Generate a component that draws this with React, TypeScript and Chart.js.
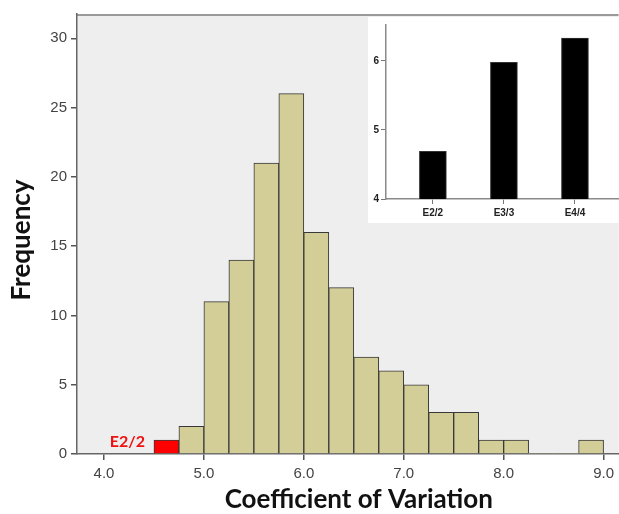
import React, { useEffect, useRef } from "react";
import { Chart, registerables } from "chart.js";

Chart.register(...registerables);

// ---- Data ----
const binStarts = [4.5, 4.75, 5.0, 5.25, 5.5, 5.75, 6.0, 6.25, 6.5, 6.75, 7.0, 7.25, 7.5, 7.75, 8.0, 8.25, 8.5, 8.75];
const binCounts = [1, 2, 11, 14, 21, 26, 16, 12, 7, 6, 5, 3, 3, 1, 1, 0, 0, 1];
const highlightBinIndex = 0;
const highlightLabel = "E2/2";
const BIN_WIDTH = 0.25;
const xTickValues = [4, 5, 6, 7, 8, 9];
const yTickValues = [0, 5, 10, 15, 20, 25, 30];
const xTitle = "Coefficient of Variation";
const yTitle = "Frequency";

const insetCategories = ["E2/2", "E3/3", "E4/4"];
const insetValues = [4.69, 5.98, 6.33];
const insetTickValues = [4, 5, 6];

const BAR_FILL = "#d3ce97";
const HIGHLIGHT_FILL = "#ff0000";

export default function App() {
  const mainRef = useRef<HTMLCanvasElement | null>(null);
  const insetRef = useRef<HTMLCanvasElement | null>(null);

  useEffect(() => {
    document.body.style.margin = "0";
    const mainCanvas = mainRef.current!;
    const insetCanvas = insetRef.current!;

    const mainChart = new Chart(mainCanvas, {
      type: "bar",
      data: {
        datasets: [
          {
            data: binStarts.map((s, i) => ({ x: s + BIN_WIDTH / 2, y: binCounts[i] })),
            backgroundColor: binCounts.map((_, i) => (i === highlightBinIndex ? HIGHLIGHT_FILL : BAR_FILL)),
            borderColor: "#383838",
            borderWidth: (ctx: any) => (ctx.raw && ctx.raw.y > 0 ? 1 : 0),
            categoryPercentage: 1,
            barPercentage: 1,
            borderSkipped: "start",
          } as any,
        ],
      },
      options: {
        animation: false,
        responsive: false,
        maintainAspectRatio: false,
        layout: { padding: { top: 14, left: 0, right: 0, bottom: 0 } },
        plugins: { legend: { display: false }, tooltip: { enabled: false } },
        scales: {
          x: {
            type: "linear",
            min: 3.73,
            max: 9.15,
            offset: false,
            afterBuildTicks: (s: any) => {
              s.ticks = xTickValues.map((v) => ({ value: v }));
            },
            afterFit: (s: any) => {
              s.height = 60;
            },
            grid: { drawOnChartArea: false, offset: false, tickLength: 6, color: "#555", lineWidth: 1.5 },
            border: { color: "#666", width: 1.5 },
            ticks: {
              callback: (v: any) => Number(v).toFixed(1),
              font: { family: "Arial", size: 15 },
              color: "#444",
              padding: 5,
              autoSkip: false,
              maxRotation: 0,
            },
          },
          y: {
            type: "linear",
            min: 0,
            max: 31.75,
            afterBuildTicks: (s: any) => {
              s.ticks = yTickValues.map((v) => ({ value: v }));
            },
            afterFit: (s: any) => {
              s.width = 77;
            },
            grid: { drawOnChartArea: false, tickLength: 6, color: "#555", lineWidth: 1.5 },
            border: { color: "#666", width: 1.5 },
            ticks: {
              font: { family: "Arial", size: 15 },
              color: "#444",
              padding: 4,
            },
          },
        },
      } as any,
      plugins: [
        {
          id: "bgAndTitles",
          beforeDraw(chart: any) {
            const { ctx, chartArea } = chart;
            ctx.save();
            ctx.fillStyle = "#ffffff";
            ctx.fillRect(0, 0, chart.width, chart.height);
            ctx.fillStyle = "#eeeeee";
            ctx.fillRect(chartArea.left, chartArea.top, chartArea.right - chartArea.left, chartArea.bottom - chartArea.top);
            ctx.strokeStyle = "#9a9a9a";
            ctx.lineWidth = 2;
            ctx.beginPath();
            ctx.moveTo(chartArea.left, chartArea.top + 1);
            ctx.lineTo(chartArea.right, chartArea.top + 1);
            ctx.stroke();
            ctx.restore();
          },
          afterDraw(chart: any) {
            const { ctx, chartArea } = chart;
            const xs = chart.scales.x;
            const ys = chart.scales.y;
            ctx.save();
            ctx.fillStyle = "#111";
            ctx.font = "bold 26px Lato";
            ctx.textAlign = "center";
            ctx.textBaseline = "middle";
            ctx.fillText(xTitle, (chartArea.left + chartArea.right) / 2 + 11, 500);
            ctx.save();
            ctx.translate(22, 240);
            ctx.rotate(-Math.PI / 2);
            ctx.fillText(yTitle, 0, 0);
            ctx.restore();
            // highlight label
            ctx.fillStyle = "#ee1111";
            ctx.font = "bold 16px Lato";
            ctx.textAlign = "right";
            ctx.fillText(
              highlightLabel,
              xs.getPixelForValue(binStarts[highlightBinIndex]) - 9,
              ys.getPixelForValue(binCounts[highlightBinIndex]) + 2
            );
            ctx.restore();
          },
        },
      ],
    });

    const insetChart = new Chart(insetCanvas, {
      type: "bar",
      data: {
        datasets: [
          {
            data: insetValues.map((v, i) => ({ x: i + 1, y: v })),
            backgroundColor: "#000000",
            borderColor: "#333",
            borderWidth: 1,
            barThickness: 27,
            borderSkipped: "start",
          } as any,
        ],
      },
      options: {
        animation: false,
        responsive: false,
        maintainAspectRatio: false,
        layout: { padding: { top: 2, left: 0, right: 0, bottom: 0 } },
        plugins: { legend: { display: false }, tooltip: { enabled: false } },
        scales: {
          x: {
            type: "linear",
            min: 0.34,
            max: 3.62,
            offset: false,
            afterBuildTicks: (s: any) => {
              s.ticks = insetCategories.map((_, i) => ({ value: i + 1 }));
            },
            afterFit: (s: any) => {
              s.height = 24;
            },
            grid: { drawOnChartArea: false, offset: false, tickLength: 5, color: "#777", lineWidth: 1 },
            border: { color: "#8a8a8a", width: 1.5 },
            ticks: {
              callback: (v: any) => insetCategories[Math.round(Number(v)) - 1] ?? "",
              font: { family: "Arial", size: 10, weight: "bold" },
              color: "#222",
              padding: 3,
              autoSkip: false,
              maxRotation: 0,
            },
          },
          y: {
            type: "linear",
            min: 4,
            max: 6.52,
            afterBuildTicks: (s: any) => {
              s.ticks = insetTickValues.map((v) => ({ value: v }));
            },
            afterFit: (s: any) => {
              s.width = 18;
            },
            grid: { drawOnChartArea: false, tickLength: 5, color: "#777", lineWidth: 1 },
            border: { color: "#8a8a8a", width: 1.5 },
            ticks: {
              font: { family: "Arial", size: 10, weight: "bold" },
              color: "#222",
              padding: 2,
            },
          },
        },
      } as any,
      plugins: [
        {
          id: "insetBg",
          beforeDraw(chart: any) {
            const { ctx } = chart;
            ctx.save();
            ctx.fillStyle = "#ffffff";
            ctx.fillRect(0, 0, chart.width, chart.height);
            ctx.restore();
          },
        },
      ],
    });

    return () => {
      mainChart.destroy();
      insetChart.destroy();
    };
  }, []);

  return (
    <div style={{ position: "absolute", left: 0, top: 0, width: 619, height: 514 }}>
      <canvas ref={mainRef} width={619} height={514} style={{ position: "absolute", left: 0, top: 0 }} />
      <canvas ref={insetRef} width={251} height={206} style={{ position: "absolute", left: 368, top: 17 }} />
    </div>
  );
}
